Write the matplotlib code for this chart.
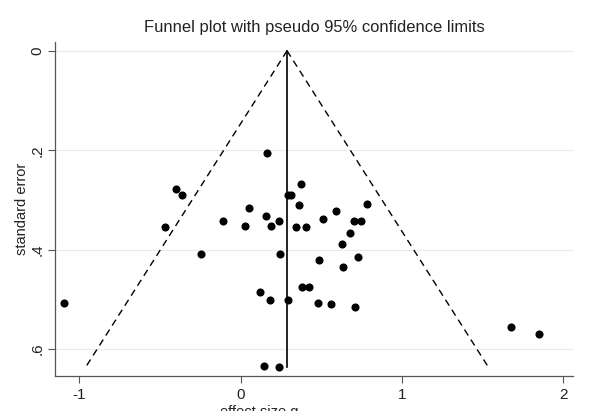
import matplotlib.pyplot as plt
import numpy as np

plt.rcParams['font.family'] = ['Liberation Sans', 'DejaVu Sans']

# effect size g and standard error of each study
effect = [0.165, -0.399, -0.362, -0.467, -0.110, 0.028, 0.055, 0.158, 0.189, 0.240,
          -0.245, 0.373, 0.292, 0.311, 0.360, 0.342, 0.404, 0.511, 0.593, 0.785,
          0.703, 0.744, 0.680, 0.626, 0.243, 0.486, 0.726, 0.637, 0.119, 0.181,
          0.294, 0.383, 0.422, 0.482, 0.558, 0.711, 0.148, 0.236, -1.093, 1.675,
          1.848]
stderr = [0.205, 0.278, 0.291, 0.355, 0.342, 0.352, 0.316, 0.333, 0.353, 0.343,
          0.409, 0.268, 0.290, 0.290, 0.310, 0.355, 0.355, 0.339, 0.322, 0.309,
          0.343, 0.343, 0.366, 0.388, 0.408, 0.420, 0.415, 0.435, 0.486, 0.501,
          0.502, 0.475, 0.476, 0.507, 0.510, 0.515, 0.634, 0.636, 0.508, 0.555,
          0.570]
pooled = 0.288

xticks = [-1, 0, 1, 2]
xtick_labels = ['-1', '0', '1', '2']
yticks = [0, 0.2, 0.4, 0.6]
ytick_labels = ['0', '.2', '.4', '.6']

fig = plt.figure(figsize=(5.92, 4.11), dpi=100)
ax = fig.add_axes([0.0929, 0.0852, 0.875, 0.813])

se_max = max(stderr)
se_line = np.array([0, se_max])
ax.plot(pooled - 1.96 * se_line, se_line, color='black', linestyle=(0, (5, 3.5)), lw=1.0)
ax.plot(pooled + 1.96 * se_line, se_line, color='black', linestyle=(0, (5, 3.5)), lw=1.0)
ax.plot([pooled, pooled], se_line, color='black', lw=1.2)

ax.scatter(effect, stderr, s=34, color='black', zorder=3, linewidths=0)

ax.set_xlim(-1.149, 2.059)
ax.set_ylim(0.654, -0.018)

ax.set_xticks(xticks)
ax.set_xticklabels(xtick_labels)
ax.set_yticks(yticks)
ax.set_yticklabels(ytick_labels, rotation=90, va='center')

ax.set_axisbelow(True)
ax.yaxis.grid(True, color='#eaeaea', linewidth=0.8)

for side in ['top', 'right']:
    ax.spines[side].set_visible(False)
for side in ['left', 'bottom']:
    ax.spines[side].set_color('#555555')
    ax.spines[side].set_linewidth(0.9)
ax.tick_params(axis='both', colors='#555555', labelcolor='#222222', labelsize=11,
               length=5, width=0.8)
ax.tick_params(axis='y', pad=2.5)

ax.set_title('Funnel plot with pseudo 95% confidence limits', fontsize=11.9, color='#222222', pad=7)
ax.set_ylabel('standard error', fontsize=10.5, color='#222222')
ax.yaxis.set_label_coords(-0.05, 0.5)
ax.set_xlabel('effect size g', fontsize=10.5, color='#222222')
ax.xaxis.set_label_coords(0.394, -0.087)

fig.savefig('out.png', dpi=100)
